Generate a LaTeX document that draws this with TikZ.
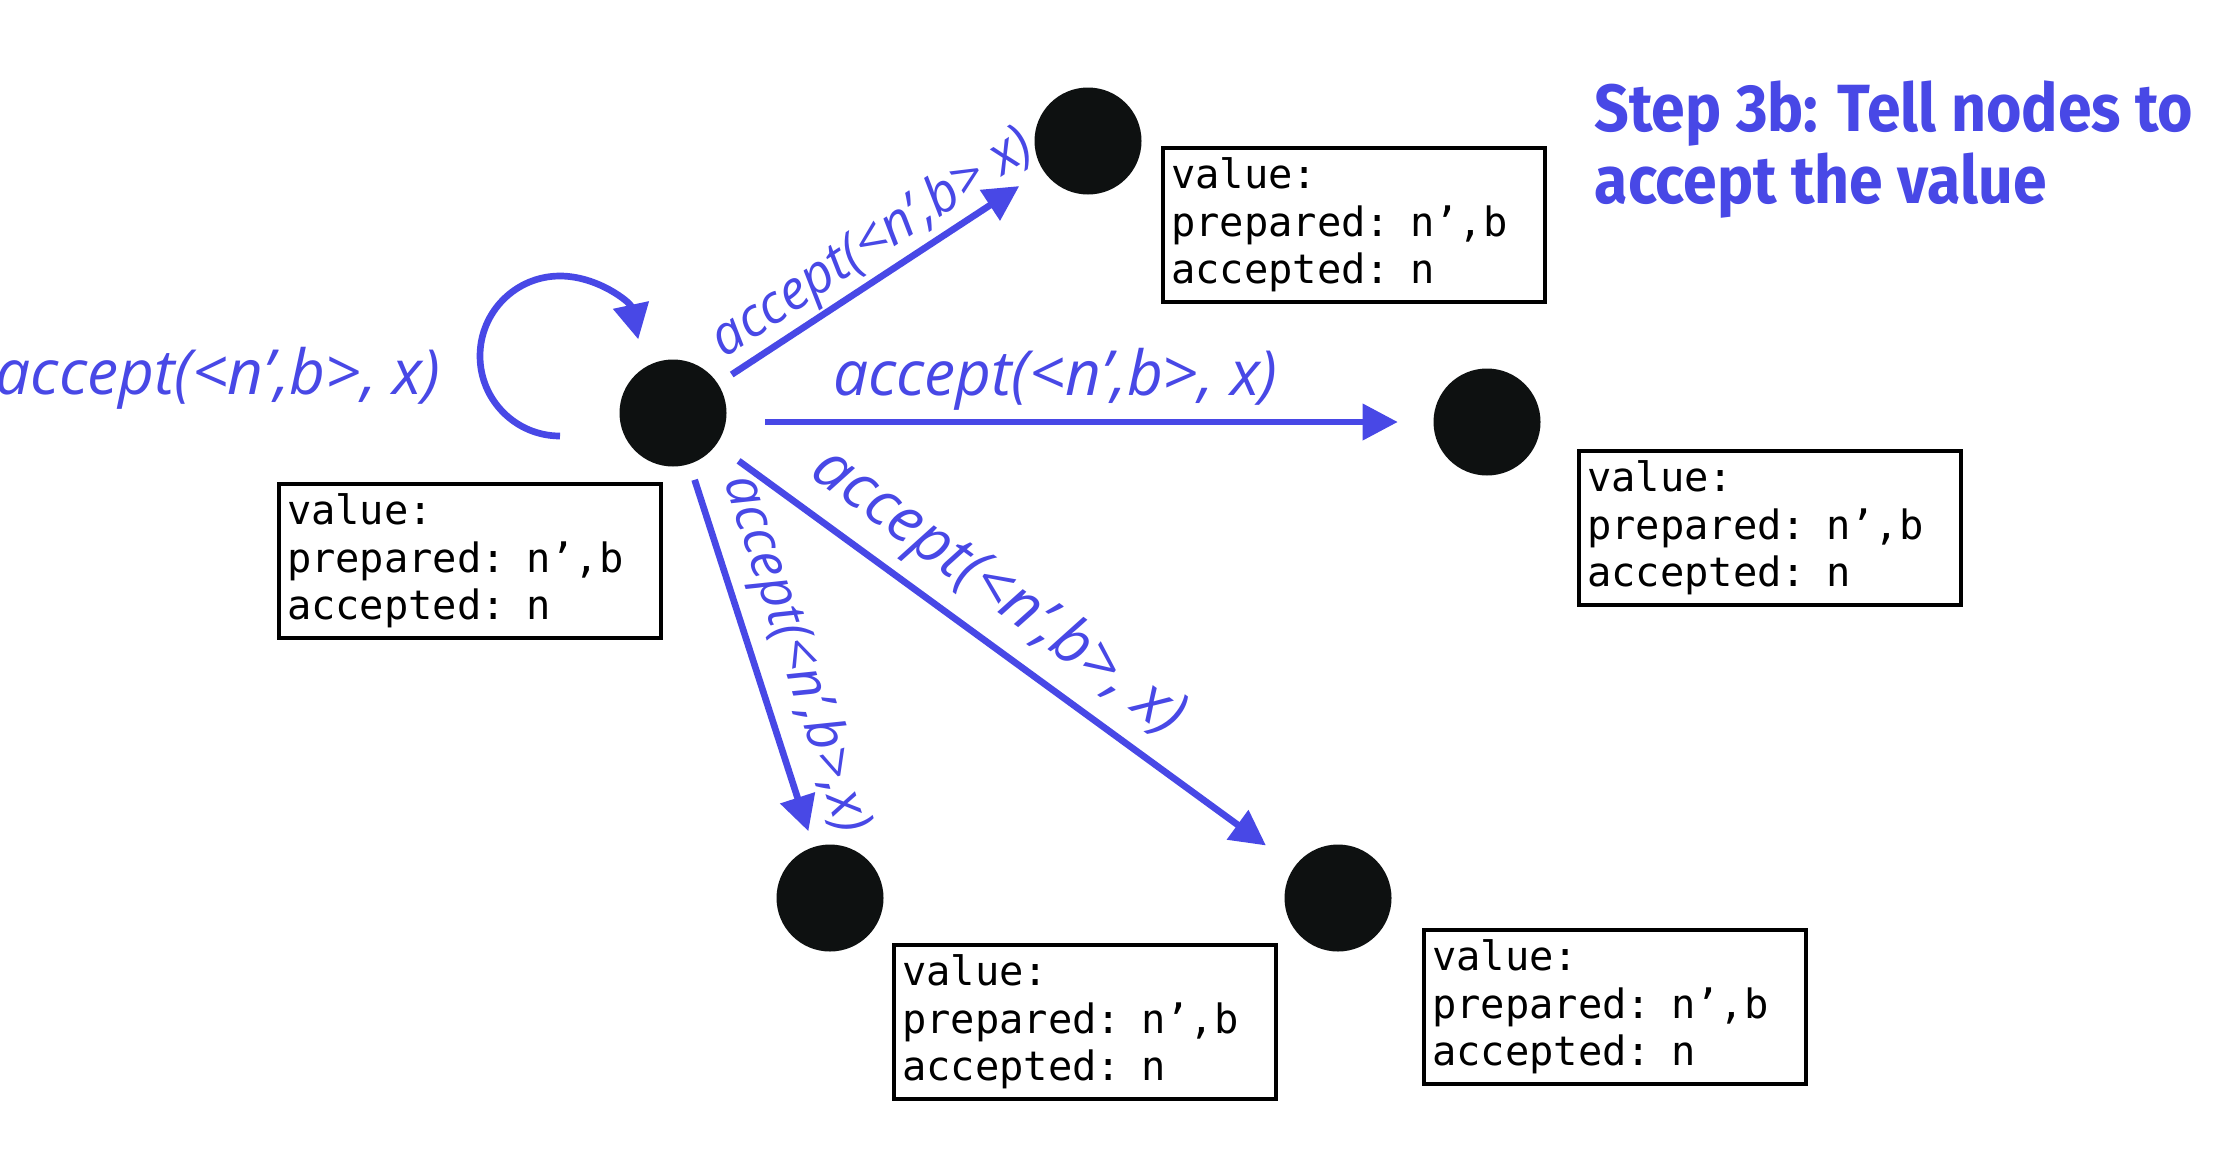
\documentclass[tikz,border=0pt]{standalone}
\usepackage{fontspec}
\usepackage{tikz}
\usetikzlibrary{arrows.meta, positioning, calc}
\newfontfamily\boxfont{DejaVu Sans Mono}
\newfontfamily\msgfont{Open Sans}
\newfontfamily\headfont[FakeStretch=0.91]{Fira Sans}
\definecolor{msgblue}{RGB}{72,72,230}
\definecolor{nodeblack}{RGB}{14,17,17}
\tikzstyle{peer} = [circle, fill=nodeblack, minimum size=1.07cm, inner sep=0pt]
\tikzstyle{valbox} = [rectangle, draw=black, line width=1.2pt, minimum width=3.82cm, minimum height=1.54cm, text width=3.66cm, align=left, inner sep=0.08cm, font=\boxfont\fontsize{11.5}{13.5}\selectfont]
\tikzstyle{msg} = [text=msgblue, font=\msgfont\itshape\fontsize{17.7}{20}\selectfont]
\tikzstyle{smallmsg} = [msg, font=\msgfont\itshape\fontsize{15.4}{18}\selectfont]
\tikzstyle{heading} = [text=msgblue, align=left, inner sep=0pt, font=\headfont\bfseries\fontsize{19}{20.5}\selectfont]
\tikzstyle{arrow} = [line width=1.9pt, draw=msgblue, -{Triangle[length=10pt, width=10pt]}]

\begin{document}
\begin{tikzpicture}
    \path [use as bounding box, fill=white] (0,0) rectangle (22.18,-11.72);

    \node (c) [peer] at (6.73,-4.13) {};
    \node (t) [peer] at (10.88,-1.41) {};
    \node (r) [peer] at (14.87,-4.22) {};
    \node (bl) [peer] at (8.30,-8.98) {};
    \node (br) [peer] at (13.38,-8.98) {};

    \node (cval) [valbox] at (4.70,-5.61) {value:\\prepared: n’,b\\accepted: n};
    \node (tval) [valbox] at (13.54,-2.25) {value:\\prepared: n’,b\\accepted: n};
    \node (rval) [valbox] at (17.70,-5.28) {value:\\prepared: n’,b\\accepted: n};
    \node (blval) [valbox] at (10.85,-10.22) {value:\\prepared: n’,b\\accepted: n};
    \node (brval) [valbox] at (16.15,-10.07) {value:\\prepared: n’,b\\accepted: n};

    \node (head) [heading, anchor=north west] at (15.94,-0.80) {Step 3b: Tell nodes to\\accept the value};

    \draw [arrow] ([xshift=-1.13cm,yshift=-0.23cm]c.center) arc[start angle=270, end angle=12, radius=0.8cm];
    \node (selfmsg) [msg] at (2.18,-3.78) {accept(<n’,b>, x)};

    \draw [arrow, shorten <=0.16cm, shorten >=0.28cm] (c) -- node[smallmsg, sloped, above=-3pt, pos=0.53] {accept(<n’,b> x)} (t);
    \draw [arrow, shorten <=0.38cm, shorten >=0.35cm] (c.east |- r.center) -- node[msg, above=-1pt, pos=0.465] {accept(<n’,b>, x)} (r.west);
    \draw [arrow, shorten <=0.27cm, shorten >=0.35cm] (c) -- node[msg, sloped, above, pos=0.44] {accept(<n’,b>, x)} (br);
    \draw [arrow, shorten <=0.16cm, shorten >=0.16cm] (c) -- node[smallmsg, sloped, above, pos=0.53] {accept(<n’,b>,x)} (bl);
\end{tikzpicture}
\end{document}
